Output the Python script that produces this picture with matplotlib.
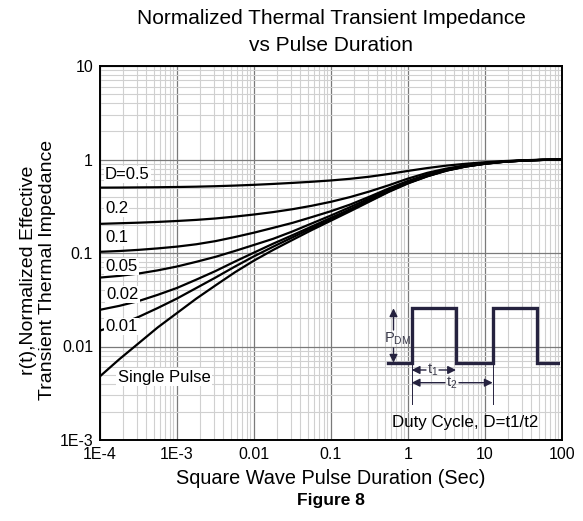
import matplotlib
matplotlib.use('Agg')
import numpy as np
import matplotlib.pyplot as plt
from matplotlib.ticker import FixedLocator, LogLocator, NullFormatter

plt.rcParams['font.family'] = ['Liberation Sans', 'DejaVu Sans']
plt.rcParams['mathtext.fontset'] = 'custom'
plt.rcParams['mathtext.rm'] = 'Liberation Sans'

# pulse duration (sec), quarter-decade steps from 1E-4 to 100
pulse_time = [1e-4, 1.78e-4, 3.16e-4, 5.62e-4,
              1e-3, 1.78e-3, 3.16e-3, 5.62e-3,
              0.01, 0.0178, 0.0316, 0.0562,
              0.1, 0.178, 0.316, 0.562,
              1, 1.78, 3.16, 5.62,
              10, 17.8, 31.6, 56.2, 100]

# r(t)
r_d05 = [0.50, 0.501, 0.503, 0.505, 0.508, 0.512, 0.518, 0.526, 0.536, 0.548, 0.562, 0.578,
         0.597, 0.622, 0.655, 0.70, 0.755, 0.81, 0.86, 0.90, 0.935, 0.962, 0.982, 0.995, 1.0]
r_d02 = [0.205, 0.208, 0.211, 0.215, 0.22, 0.226, 0.234, 0.245, 0.258, 0.274, 0.294, 0.32,
         0.353, 0.397, 0.455, 0.53, 0.625, 0.72, 0.80, 0.868, 0.918, 0.955, 0.978, 0.992, 1.0]
r_d01 = [0.103, 0.105, 0.108, 0.112, 0.117, 0.124, 0.134, 0.148, 0.165, 0.186, 0.21, 0.242,
         0.28, 0.33, 0.40, 0.49, 0.59, 0.69, 0.78, 0.853, 0.908, 0.95, 0.975, 0.991, 1.0]
r_d005 = [0.0546, 0.0569, 0.0603, 0.0652, 0.0717, 0.0805, 0.091, 0.105, 0.122, 0.142, 0.17, 0.207,
          0.252, 0.31, 0.383, 0.475, 0.575, 0.677, 0.772, 0.848, 0.905, 0.948, 0.974, 0.99, 1.0]
r_d002 = [0.0247, 0.0272, 0.0306, 0.0357, 0.0423, 0.0519, 0.0641, 0.0808, 0.101, 0.126, 0.155, 0.192,
          0.238, 0.294, 0.368, 0.461, 0.564, 0.667, 0.765, 0.843, 0.902, 0.946, 0.974, 0.99, 1.0]
r_d001 = [0.0148, 0.0172, 0.0207, 0.0258, 0.0326, 0.0422, 0.0546, 0.0714, 0.0922, 0.117, 0.147, 0.184,
          0.230, 0.287, 0.361, 0.456, 0.559, 0.663, 0.762, 0.842, 0.901, 0.946, 0.973, 0.99, 1.0]
r_single = [0.0048, 0.0073, 0.0108, 0.016, 0.0228, 0.0325, 0.045, 0.062, 0.083, 0.108, 0.138, 0.176,
            0.222, 0.28, 0.355, 0.45, 0.555, 0.66, 0.76, 0.84, 0.90, 0.945, 0.973, 0.99, 1.0]

curves = [r_d05, r_d02, r_d01, r_d005, r_d002, r_d001, r_single]
curve_labels = ['D=0.5', '0.2', '0.1', '0.05', '0.02', '0.01', 'Single Pulse']
label_x = [1.16e-4, 1.16e-4, 1.16e-4, 1.16e-4, 1.2e-4, 1.16e-4, 1.7e-4]
label_y = [0.69, 0.30, 0.147, 0.072, 0.036, 0.0164, 0.0047]

x_ticks = [1e-4, 1e-3, 0.01, 0.1, 1, 10, 100]
x_tick_labels = ['1E-4', '1E-3', '0.01', '0.1', '1', '10', '100']
y_ticks = [1e-3, 0.01, 0.1, 1, 10]
y_tick_labels = ['1E-3', '0.01', '0.1', '1', '10']

W, H = 583, 521
ink = '#25223f'
ink_text = '#3a3a4a'


def draw_inset(fig):
    # duty cycle sketch, drawn in picture pixel units
    ins = fig.add_axes([383 / W, 1 - 439 / H, (560 - 383) / W, (439 - 298) / H])
    ins.set_xlim(383, 560)
    ins.set_ylim(439, 298)
    ins.set_facecolor('white')
    ins.axis('off')
    ins.patch.set_visible(True)

    wx = [388, 411.7, 411.7, 456, 456, 492.7, 492.7, 536.7, 536.7, 558]
    wy = [362.7, 362.7, 308.3, 308.3, 362.7, 362.7, 308.3, 308.3, 362.7, 362.7]
    ins.plot(wx, wy, color=ink, lw=2.4, solid_joinstyle='miter')

    ins.plot([411.7, 411.7], [362.7, 404], color=ink, lw=0.7)
    ins.plot([492.7, 492.7], [362.7, 404], color=ink, lw=0.7)

    arrow = dict(arrowstyle='-|>', color=ink, lw=1.0, mutation_scale=12, shrinkA=0, shrinkB=0)
    ins.annotate('', xy=(393.5, 308.3), xytext=(393.5, 330), arrowprops=arrow)
    ins.annotate('', xy=(393.5, 362.7), xytext=(393.5, 348), arrowprops=arrow)
    ins.text(384.5, 339, r'$\mathrm{P_{DM}}$', fontsize=10.5, color=ink_text, va='center', ha='left')

    ins.annotate('', xy=(411.7, 370), xytext=(426, 370), arrowprops=arrow)
    ins.annotate('', xy=(456, 370), xytext=(439, 370), arrowprops=arrow)
    ins.text(432.5, 370, r'$\mathrm{t_1}$', fontsize=10.5, color=ink_text, va='center', ha='center')

    ins.annotate('', xy=(411.7, 382.7), xytext=(445, 382.7), arrowprops=arrow)
    ins.annotate('', xy=(492.7, 382.7), xytext=(459, 382.7), arrowprops=arrow)
    ins.text(452, 382.7, r'$\mathrm{t_2}$', fontsize=10.5, color=ink_text, va='center', ha='center')

    ins.text(465, 423, 'Duty Cycle, D=t1/t2', fontsize=12.2, color='black', va='center', ha='center')


def main():
    fig = plt.figure(figsize=(W / 100, H / 100), dpi=100)
    ax = fig.add_axes([100 / W, 1 - 440 / H, (562 - 100) / W, (440 - 66) / H])

    for r in curves:
        ax.plot(pulse_time, r, color='black', lw=1.6, zorder=3)

    ax.set_xscale('log')
    ax.set_yscale('log')
    ax.set_xlim(1e-4, 100)
    ax.set_ylim(1e-3, 10)

    ax.xaxis.set_major_locator(FixedLocator(x_ticks))
    ax.set_xticklabels(x_tick_labels)
    ax.yaxis.set_major_locator(FixedLocator(y_ticks))
    ax.set_yticklabels(y_tick_labels)
    for axis in (ax.xaxis, ax.yaxis):
        axis.set_minor_locator(LogLocator(base=10, subs=np.arange(2, 10)))
        axis.set_minor_formatter(NullFormatter())
    ax.tick_params(which='both', length=0, labelsize=11.5, pad=5)

    ax.grid(which='minor', color='#d0d0d0', lw=0.8)
    ax.grid(which='major', color='#7a7a7a', lw=0.9)
    ax.set_axisbelow(True)
    for s in ax.spines.values():
        s.set_linewidth(1.4)

    for txt, lx, ly in zip(curve_labels, label_x, label_y):
        ax.text(lx, ly, txt, fontsize=12, ha='left', va='center', zorder=4,
                bbox=dict(facecolor='white', edgecolor='none', pad=1.0))

    fig.text(331 / W, 1 - 32 / H, 'Normalized Thermal Transient Impedance\nvs Pulse Duration',
             fontsize=15, ha='center', va='center', linespacing=1.5)
    fig.text(331 / W, 1 - 478 / H, 'Square Wave Pulse Duration (Sec)', fontsize=14.3,
             ha='center', va='center')
    fig.text(331 / W, 1 - 500 / H, 'Figure 8', fontsize=12.5, fontweight='bold',
             ha='center', va='center')
    fig.text(38 / W, 1 - 270 / H, 'r(t),Normalized Effective\nTransient Thermal Impedance',
             fontsize=14, rotation=90, ha='center', va='center', linespacing=1.1)

    draw_inset(fig)

    fig.savefig('out.png', dpi=100)


if __name__ == '__main__':
    main()
